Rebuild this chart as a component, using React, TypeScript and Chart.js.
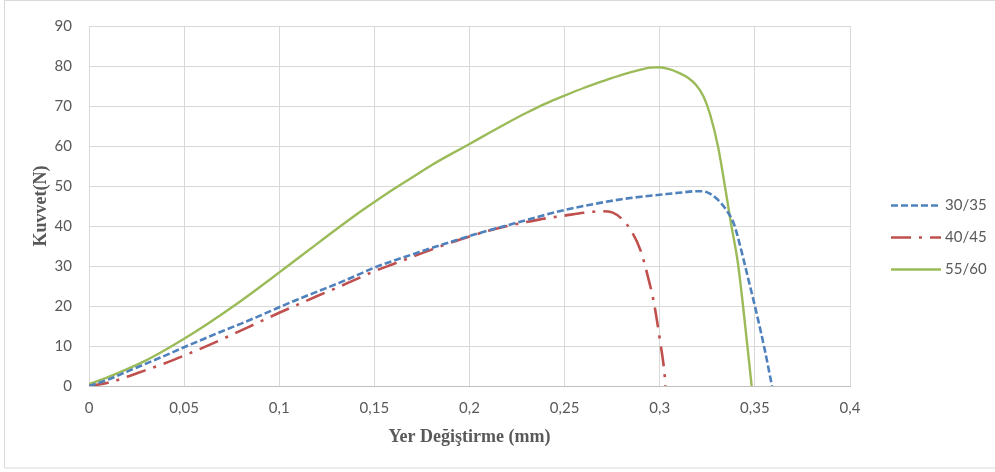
import { useEffect, useRef } from 'react';
import { Chart, registerables } from 'chart.js';

Chart.register(...registerables);

// ---- Data ----
const seriesLabels = ['30/35', '40/45', '55/60'];

const x3035 = [0, 0.01, 0.02, 0.03, 0.04, 0.05, 0.06, 0.07, 0.08, 0.09, 0.1, 0.11, 0.12, 0.13, 0.14, 0.15, 0.16, 0.17, 0.18, 0.19, 0.2, 0.21, 0.22, 0.23, 0.24, 0.25, 0.26, 0.27, 0.28, 0.29, 0.3, 0.31, 0.32, 0.325, 0.33, 0.335, 0.339, 0.342, 0.346, 0.351, 0.355, 0.359];
const y3035 = [0, 1.6, 3.6, 5.6, 7.6, 9.7, 11.7, 13.7, 15.6, 17.6, 19.7, 21.7, 23.6, 25.5, 27.5, 29.6, 31.3, 32.9, 34.5, 36.0, 37.5, 38.9, 40.2, 41.5, 42.8, 44.0, 45.0, 45.9, 46.7, 47.3, 47.8, 48.3, 48.7, 48.4, 46.8, 44.0, 40.5, 35.5, 27.8, 18.0, 9.5, 0];

const x4045 = [0, 0.01, 0.02, 0.03, 0.04, 0.05, 0.06, 0.07, 0.08, 0.09, 0.1, 0.11, 0.12, 0.13, 0.14, 0.15, 0.16, 0.17, 0.18, 0.19, 0.2, 0.21, 0.22, 0.23, 0.24, 0.25, 0.26, 0.27, 0.275, 0.28, 0.285, 0.29, 0.295, 0.2965, 0.3, 0.3028, 0.303];
const y4045 = [0, 0.8, 2.3, 4.0, 5.7, 7.6, 9.6, 11.7, 13.9, 16.1, 18.3, 20.4, 22.5, 24.5, 26.6, 28.7, 30.5, 32.3, 34.1, 35.8, 37.4, 38.8, 40.0, 41.0, 41.9, 42.6, 43.3, 43.7, 43.4, 41.8, 38.8, 33.8, 25.0, 21.9, 11.8, 1.5, 0];

const x5560 = [0, 0.01, 0.02, 0.03, 0.04, 0.05, 0.06, 0.07, 0.08, 0.09, 0.1, 0.11, 0.12, 0.13, 0.14, 0.15, 0.16, 0.17, 0.18, 0.19, 0.2, 0.21, 0.22, 0.23, 0.24, 0.25, 0.26, 0.27, 0.28, 0.29, 0.295, 0.3, 0.305, 0.31, 0.315, 0.319, 0.323, 0.3264, 0.3307, 0.3343, 0.3375, 0.341, 0.3439, 0.3483];
const y5560 = [0.5, 2.2, 4.2, 6.4, 9.0, 11.8, 14.8, 18.0, 21.3, 24.8, 28.4, 32.0, 35.6, 39.2, 42.7, 46.0, 49.2, 52.2, 55.2, 57.9, 60.5, 63.2, 65.8, 68.3, 70.6, 72.6, 74.5, 76.2, 77.8, 79.1, 79.6, 79.7, 79.2, 78.3, 77.0, 75.3, 72.4, 68.0, 59.7, 49.8, 40.5, 31.0, 19.5, 0];

const xTickStep = 0.05;
const yTickStep = 10;
const xRange = [0, 0.4];
const yRange = [0, 90];

const xTitle = 'Yer Değiştirme (mm)';
const yTitle = 'Kuvvet(N)';

const colors = ['#4F81BD', '#C0504D', '#9BBB59'];
const dashes = [[7, 3], [20, 8, 3, 8], []];
const widths = [2.6, 2.6, 2.4];

const toPoints = (xs: number[], ys: number[]) => xs.map((x, i) => ({ x, y: ys[i] }));

const frameAndLegend = {
  id: 'frameAndLegend',
  beforeDraw(chart: any) {
    const { ctx } = chart;
    ctx.save();
    ctx.strokeStyle = '#d9d9d9';
    ctx.lineWidth = 1;
    ctx.strokeRect(4.5, 0.5, 1000, 467.5);
    ctx.restore();
  },
  afterDraw(chart: any) {
    const { ctx, chartArea } = chart;
    const x0 = chartArea.right + 41;
    const lineLen = 50;
    const yStart = (chartArea.top + chartArea.bottom) / 2 - 1;
    const gap = 32;
    ctx.save();
    ctx.font = '15px Lato';
    ctx.textBaseline = 'middle';
    ctx.textAlign = 'left';
    chart.data.datasets.forEach((ds: any, i: number) => {
      const y = Math.round(yStart + i * gap) + 0.5;
      ctx.strokeStyle = ds.borderColor;
      ctx.lineWidth = ds.borderWidth;
      ctx.setLineDash(ds.borderDash || []);
      ctx.beginPath();
      ctx.moveTo(x0, y);
      ctx.lineTo(x0 + lineLen, y);
      ctx.stroke();
      ctx.setLineDash([]);
      ctx.fillStyle = '#595959';
      ctx.fillText(ds.label, x0 + lineLen + 4, y);
    });
    ctx.restore();
  },
};

export default function App() {
  const canvasRef = useRef<HTMLCanvasElement | null>(null);

  useEffect(() => {
    document.body.style.margin = '0';
    const canvas = canvasRef.current;
    if (!canvas) return;
    const datasets = [
      toPoints(x3035, y3035),
      toPoints(x4045, y4045),
      toPoints(x5560, y5560),
    ].map((data, i) => ({
      label: seriesLabels[i],
      data,
      borderColor: colors[i],
      backgroundColor: colors[i],
      borderWidth: widths[i],
      borderDash: dashes[i],
      pointRadius: 0,
      fill: false,
      tension: 0.3,
      cubicInterpolationMode: 'monotone' as const,
    }));

    const fmt = (v: number) => String(Math.round(v * 100) / 100).replace('.', ',');

    const chart = new Chart(canvas, {
      type: 'line',
      data: { datasets },
      options: {
        animation: false,
        responsive: false,
        layout: { padding: { left: 0, top: 20, right: 145, bottom: 0 } },
        plugins: {
          legend: { display: false },
          tooltip: { enabled: false },
        },
        scales: {
          x: {
            type: 'linear',
            min: xRange[0],
            max: xRange[1],
            ticks: {
              stepSize: xTickStep,
              callback: (v: any) => fmt(Number(v)),
              color: '#595959',
              font: { family: 'Lato', size: 15 },
              padding: 13,
              maxRotation: 0,
            },
            grid: { color: '#d9d9d9', drawTicks: false, lineWidth: 1 },
            border: { color: '#bfbfbf', width: 1 },
            title: {
              display: true,
              text: xTitle,
              color: '#595959',
              font: { family: 'Liberation Serif', size: 18, weight: 'bold' },
              padding: { top: 0, bottom: 24 },
            },
            afterFit: (s: any) => { s.height = 86; },
          },
          y: {
            type: 'linear',
            min: yRange[0],
            max: yRange[1],
            ticks: {
              stepSize: yTickStep,
              color: '#595959',
              font: { family: 'Lato', size: 15 },
              padding: 17,
            },
            grid: { color: '#d9d9d9', drawTicks: false, lineWidth: 1 },
            border: { display: false },
            title: {
              display: true,
              text: yTitle,
              color: '#595959',
              font: { family: 'Liberation Serif', size: 18, weight: 'bold' },
              padding: { top: 31, bottom: 0 },
            },
            afterFit: (s: any) => { s.width = 89; },
          },
        },
      },
      plugins: [frameAndLegend],
    });
    return () => chart.destroy();
  }, []);

  return (
    <div style={{ width: 995, height: 472 }}>
      <canvas ref={canvasRef} width={995} height={472} style={{ display: 'block' }} />
    </div>
  );
}
